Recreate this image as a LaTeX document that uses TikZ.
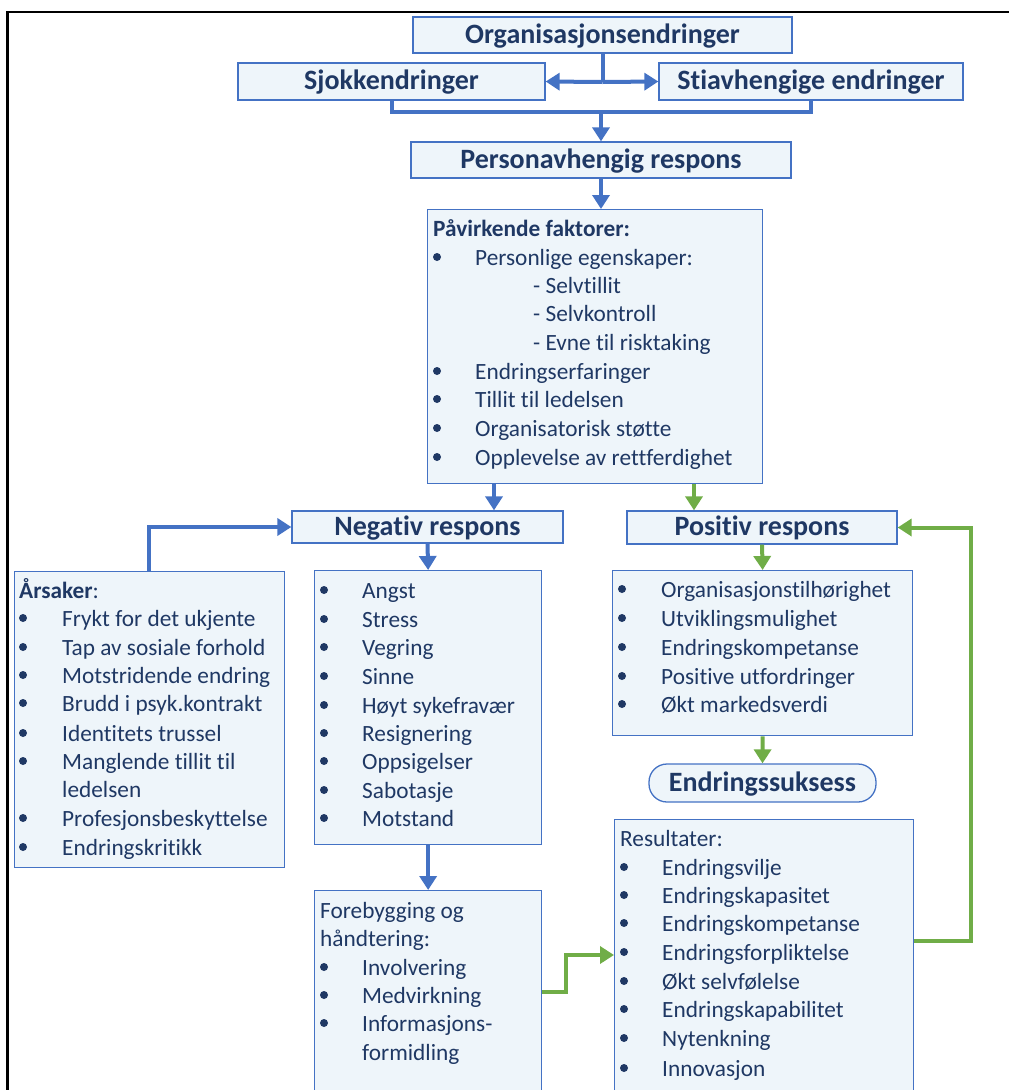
\documentclass[tikz,border=0pt]{standalone}
\usepackage{fontspec}
\setmainfont{Carlito}[RawFeature={-liga}]
\usetikzlibrary{arrows.meta}

\definecolor{navy}{HTML}{1F3864}
\definecolor{lineblue}{HTML}{4472C4}
\definecolor{fillblue}{HTML}{EEF5FA}
\definecolor{linegreen}{HTML}{70AD47}

\newcommand\bodyfont{\fontsize{23.3pt}{28.5pt}\selectfont}
\newcommand\headfont{\fontsize{28pt}{34pt}\selectfont\bfseries}

\tikzset{
  box/.style={draw=lineblue, fill=fillblue, line width=1.3pt, inner sep=0pt, rectangle},
  listbox/.style={box, anchor=north west},
  headbox/.style={box, font=\headfont, text=navy, text height=20pt, text depth=4pt},
  item/.style={anchor=west, inner sep=0pt, text height=17pt, text depth=0pt, font=\bodyfont, text=navy},
  dot/.style={circle, fill=navy, inner sep=0pt, minimum size=8pt},
  bline/.style={draw=lineblue, line width=4pt},
  barrow/.style={bline, -{Triangle[width=17pt,length=14pt]}},
  gline/.style={draw=linegreen, line width=4pt},
  garrow/.style={gline, -{Triangle[width=17pt,length=14pt]}},
}

\begin{document}
\begin{tikzpicture}[x=1pt, y=-1pt]
\useasboundingbox (0,0) rectangle (1009,1090);
\clip (0,0) rectangle (1009,1090);

% outer frame (top and left edges)
\draw[line width=2.5pt] (7.5,1095) -- (7.5,12) -- (1015,12);

% heading boxes
\node[headbox, minimum width=379pt, minimum height=36pt] (org) at (602.5,35) {Organisasjonsendringer};
\node[headbox, minimum width=307pt, minimum height=37pt] (sjokk) at (391.5,81.5) {Sjokkendringer};
\node[headbox, minimum width=304pt, minimum height=37pt] (stia) at (811,81.5) {Stiavhengige endringer};
\node[headbox, minimum width=380pt, minimum height=36pt] (person) at (601,160) {Personavhengig respons};
\node[headbox, minimum width=271pt, minimum height=32pt] (negr) at (427.5,527) {Negativ respons};
\node[headbox, minimum width=270pt, minimum height=33pt] (posr) at (762,527.5) {Positiv respons};
\node[headbox, rounded corners=18pt, minimum width=227pt, minimum height=38pt] (succ) at (762.5,783) {Endringssuksess};

% list boxes
\node[listbox, minimum width=335pt, minimum height=274pt] (paa) at (427,209) {};
\node[listbox, minimum width=270pt, minimum height=296pt] (ars) at (14,571) {};
\node[listbox, minimum width=227pt, minimum height=274pt] (negl) at (314,570) {};
\node[listbox, minimum width=300pt, minimum height=165pt] (posl) at (612,570) {};
\node[listbox, minimum width=299pt, minimum height=300pt] (res) at (614,819) {};
\node[listbox, minimum width=227pt, minimum height=230pt] (fore) at (314,890) {};

% influencing factors
\node[item, font=\bodyfont\bfseries] (paah) at (433,228) {Påvirkende faktorer:};
\foreach \y/\t [count=\i] in {257/Personlige egenskaper:, 371/Endringserfaringer, 399/Tillit til ledelsen, 428/Organisatorisk støtte, 457/Opplevelse av rettferdighet}{
  \node[dot] (paab\i) at (437,\y) {};
  \node[item] (paat\i) at (475,\y) {\t};
}
\foreach \y/\t [count=\i] in {285/- Selvtillit, 313/- Selvkontroll, 342/- Evne til risktaking}{
  \node[item] (paas\i) at (533,\y) {\t};
}

% causes
\node[item] (arsh) at (19,590) {\textbf{Årsaker}:};
\foreach \y/\t [count=\i] in {618/Frykt for det ukjente, 647/Tap av sosiale forhold, 675/Motstridende endring, 703/Brudd i psyk.kontrakt, 733/Identitets trussel, 761/Manglende tillit til, 818/Profesjonsbeskyttelse, 847/Endringskritikk}{
  \node[dot] (arsb\i) at (23,\y) {};
  \node[item] (arst\i) at (62,\y) {\t};
}
\node[item] (arsc) at (62,789) {ledelsen};

% negative reactions
\foreach \y/\t [count=\i] in {590/Angst, 619/Stress, 647/Vegring, 676/Sinne, 705/Høyt sykefravær, 733/Resignering, 761/Oppsigelser, 790/Sabotasje, 818/Motstand}{
  \node[dot] (negb\i) at (324,\y) {};
  \node[item] (negt\i) at (362,\y) {\t};
}

% positive reactions
\foreach \y/\t [count=\i] in {589/Organisasjonstilhørighet, 618/Utviklingsmulighet, 647/Endringskompetanse, 676/Positive utfordringer, 704/Økt markedsverdi}{
  \node[dot] (posb\i) at (622,\y) {};
  \node[item] (post\i) at (661,\y) {\t};
}

% prevention
\node[item] (foreh1) at (320,910) {Forebygging og};
\node[item] (foreh2) at (320,938) {håndtering:};
\foreach \y/\t [count=\i] in {967/Involvering, 995/Medvirkning, 1023/Informasjons-}{
  \node[dot] (foreb\i) at (324,\y) {};
  \node[item] (foret\i) at (362,\y) {\t};
}
\node[item] (forec) at (362,1052) {formidling};

% results
\node[item] (resh) at (620,838) {Resultater:};
\foreach \y/\t [count=\i] in {867/Endringsvilje, 895/Endringskapasitet, 923/Endringskompetanse, 952/Endringsforpliktelse, 981/Økt selvfølelse, 1009/Endringskapabilitet, 1038/Nytenkning, 1068/Innovasjon}{
  \node[dot] (resb\i) at (624,\y) {};
  \node[item] (rest\i) at (662,\y) {\t};
}

% blue connectors
\draw[bline] (org.south) -- (org.south |- 0,82) coordinate (split);
\draw[barrow] (split) -- (sjokk.east);
\draw[barrow] (split) -- (stia.west);
\draw[bline] (sjokk.south) -- (sjokk.south |- 0,112) -- (stia.south |- 0,112) -- (stia.south);
\draw[barrow] (person.north |- 0,112) -- (person.north);
\draw[barrow] (person.south) -- (person.south |- paa.north);
\draw[barrow] (494,0 |- paa.south) -- (494,0 |- negr.north);
\draw[barrow] (negr.south) -- (negl.north);
\draw[barrow] (negl.south) -- (fore.north);
\draw[barrow] (149,0 |- ars.north) -- (149,0 |- negr.west) -- (negr.west);

% green connectors
\draw[garrow] (694,0 |- paa.south) -- (694,0 |- posr.north);
\draw[garrow] (posr.south) -- (posl.north);
\draw[garrow] (posl.south) -- (succ.north);
\draw[garrow] (res.east |- 0,941) -- (971,941) -- (971,0 |- posr.east) -- (posr.east);
\draw[garrow] (fore.east |- 0,992) -- (566,992) -- (566,955) -- (res.west |- 0,955);
\end{tikzpicture}
\end{document}
